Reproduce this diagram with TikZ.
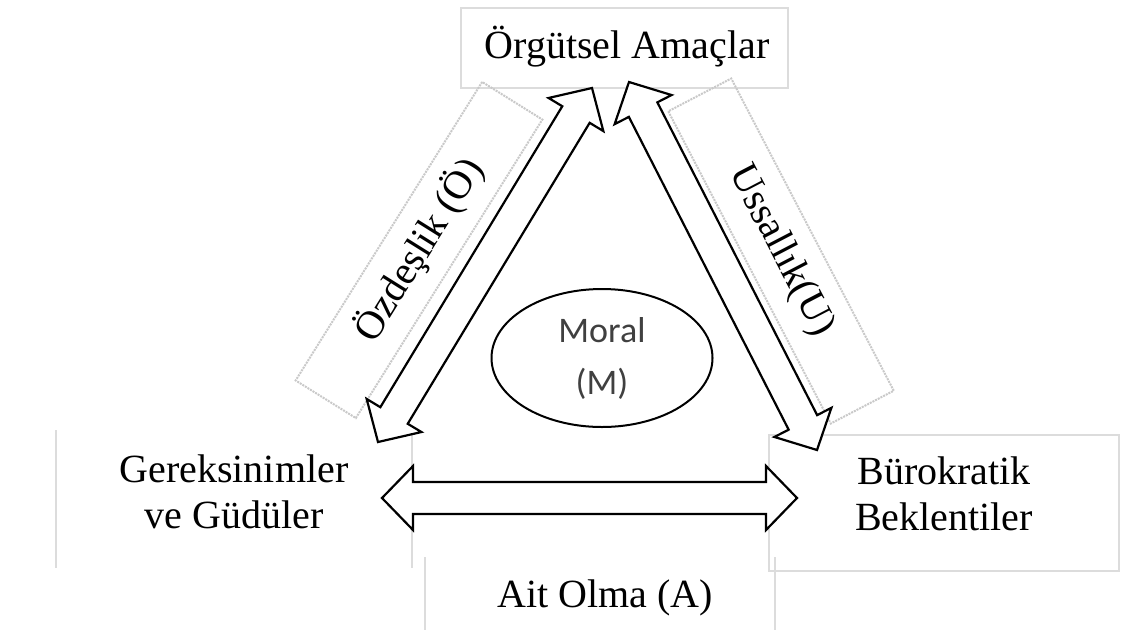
\documentclass[tikz,border=0pt]{standalone}
\usepackage{fontspec}
\setmainfont{Liberation Serif}
\newfontfamily\calibri{Carlito}
\usetikzlibrary{calc,shapes.geometric}
\definecolor{framegray}{RGB}{220,220,220}
\definecolor{moraltext}{RGB}{64,64,64}

\begin{document}
\begin{tikzpicture}[
  x=1pt, y=-1pt,
  lbl/.style={font=\fontsize{40}{46.5}\selectfont, align=center, inner sep=0pt},
  sidelbl/.style={lbl, draw=framegray!80!gray, densely dotted, line width=2pt,
    minimum width=352pt, minimum height=71pt},
  frame/.style={draw=framegray, line width=2.5pt},
  blockarrow/.style={draw, line width=2.2pt, fill=white, line join=miter}
]
  \useasboundingbox (0,0) rectangle (1121,630);

  % faint text box frames
  \draw[frame] (461,8) rectangle (788,88);
  \draw[frame] (769,435) rectangle (1119,571);
  \draw[frame] (56,430) -- (56,568) (412,430) -- (412,568);
  \draw[frame] (425,557) -- (425,630) (775,557) -- (775,630);

  \node[lbl, anchor=base] (og) at (627,58) {Örgütsel Amaçlar};
  \node[lbl] (gn) at (234,492) {Gereksinimler\\ve Güdüler};
  \node[lbl] (bb) at (944,494) {Bürokratik\\Beklentiler};
  \node[lbl, anchor=base] (ao) at (605,607) {Ait Olma (A)};
  \node[sidelbl, rotate=58] (oz) at (419,250) {Özdeşlik (Ö)};
  \node[sidelbl, rotate=-62.5] (us) at (781,251) {Ussallık(U)};
  \node[ellipse, draw, line width=2pt, minimum width=221pt, minimum height=138pt,
    inner sep=0pt, align=center, text=moraltext,
    font=\calibri\fontsize{36}{52}\selectfont] (mo) at (602,358) {Moral\\(M)};

  % arrow tips
  \coordinate (ogL) at (592,88);
  \coordinate (gnT) at (378,442);
  \coordinate (ogR) at (629,82);
  \coordinate (bbT) at (817,450);
  \coordinate (gnR) at (382,498);
  \coordinate (bbL) at (797,498);

  \foreach \a/\b in {ogL/gnT, ogR/bbT, gnR/bbL}
    \draw[blockarrow] (\a)
      -- ($(\a)!31pt!(\b)!32pt!90:(\b)$)
      -- ($(\a)!31pt!(\b)!16pt!90:(\b)$)
      -- ($(\b)!31pt!(\a)!16pt!270:(\a)$)
      -- ($(\b)!31pt!(\a)!32pt!270:(\a)$)
      -- (\b)
      -- ($(\b)!31pt!(\a)!32pt!90:(\a)$)
      -- ($(\b)!31pt!(\a)!16pt!90:(\a)$)
      -- ($(\a)!31pt!(\b)!16pt!270:(\b)$)
      -- ($(\a)!31pt!(\b)!32pt!270:(\b)$)
      -- cycle;
\end{tikzpicture}
\end{document}
